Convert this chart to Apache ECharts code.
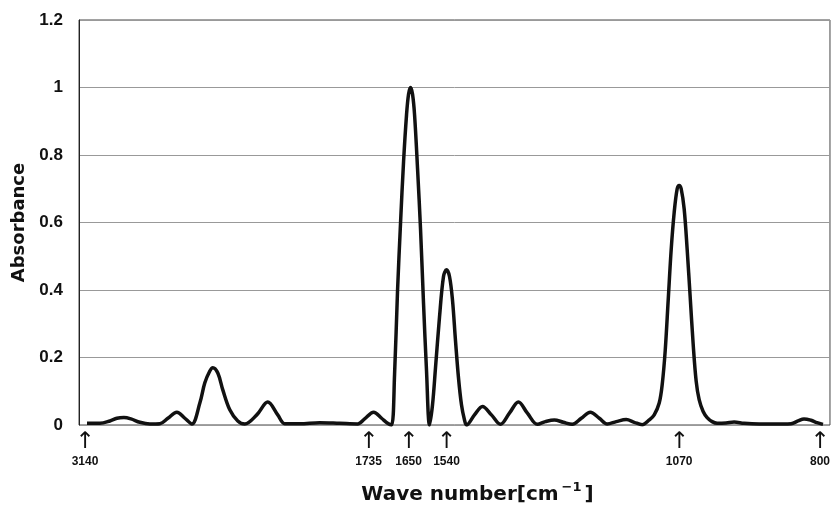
<!DOCTYPE html>
<html>
<head>
<meta charset="utf-8">
<script src="https://cdn.jsdelivr.net/npm/echarts@6/dist/echarts.min.js"></script>
<style>
  html, body { margin: 0; padding: 0; background: #fff; }
  #chart { width: 833px; height: 510px; }
</style>
</head>
<body>
<div id="chart"></div>
<script>
// Spectrum is drawn on a detector-channel axis (not linear in wave number)
const channel = [
  8, 21, 31, 38, 45, 52, 61, 71, 81, 89, 98, 106, 113,
  121, 126, 131, 134, 139, 144, 151, 159, 166, 178, 189, 199, 206,
  221, 241, 261, 279, 286, 295, 303, 309,
  313, 316, 319, 322, 325, 328, 330, 332, 334, 336, 339, 342, 345, 348, 351,
  354, 357, 361, 365, 368, 371, 374, 377, 380, 383, 386, 388,
  396, 404, 413, 422, 431, 440, 449, 459, 467, 476, 485, 494, 503, 512, 521, 529,
  538, 548, 556, 564,
  571, 576, 581, 584, 587, 590, 593, 596, 599, 601, 603, 606, 609, 612, 615, 618, 621, 625, 629, 634, 639,
  648, 656, 666, 681, 696, 713, 720, 726, 733, 739, 745
]
const absorbance = [
  0.005, 0.005, 0.012, 0.02, 0.022, 0.018, 0.008, 0.003, 0.004, 0.02, 0.038, 0.02, 0.003,
  0.065, 0.125, 0.16, 0.17, 0.154, 0.104, 0.045, 0.012, 0.003, 0.03, 0.068, 0.03, 0.004,
  0.004, 0.007, 0.005, 0.003, 0.018, 0.038, 0.02, 0.005,
  0.0, 0.15, 0.4, 0.6, 0.78, 0.92, 0.98, 1.0, 0.98, 0.92, 0.76, 0.58, 0.36, 0.16, 0.0,
  0.06, 0.17, 0.32, 0.44, 0.46, 0.44, 0.37, 0.25, 0.14, 0.06, 0.015, 0.0,
  0.03, 0.055, 0.03, 0.002, 0.035, 0.068, 0.035, 0.002, 0.01, 0.015, 0.008, 0.002, 0.02, 0.038, 0.02, 0.003,
  0.01, 0.016, 0.008, 0.001,
  0.015, 0.03, 0.065, 0.12, 0.22, 0.37, 0.52, 0.63, 0.7, 0.71, 0.7, 0.64, 0.52, 0.38, 0.24, 0.13, 0.075, 0.04, 0.022, 0.01, 0.005,
  0.006, 0.009, 0.005, 0.003, 0.003, 0.004, 0.012, 0.018, 0.014, 0.007, 0.002
]

// marked wave numbers and the channel where each sits
const tickChannel = [6, 290, 330, 368, 601, 742]
const tickWave = ['3140', '1735', '1650', '1540', '1070', '800']

const chart = echarts.init(document.getElementById('chart'), null, { renderer: 'canvas' })

chart.setOption({
  animation: false,
  backgroundColor: '#fff',
  grid: {
    left: 79,
    right: 2,
    top: 20,
    bottom: 85,
    show: true,
    borderColor: '#444',
    borderWidth: 1,
  },
  xAxis: {
    type: 'value',
    min: 0,
    max: 752,
    name: '{t|Wave number[cm}{s|−1}{t|]}',
    nameLocation: 'middle',
    nameGap: 56,
    nameTextStyle: {
      padding: [0, 0, 0, 46],
      rich: {
        t: { fontFamily: 'DejaVu Sans', fontWeight: 'bold', fontSize: 20, color: '#111', lineHeight: 26 },
        s: { fontFamily: 'DejaVu Sans', fontWeight: 'bold', fontSize: 13, color: '#111', verticalAlign: 'top', padding: [0, 3, 14, 3] },
      },
    },
    axisLine: { show: false },
    axisTick: { show: false, customValues: tickChannel },
    splitLine: { show: false },
    axisLabel: {
      customValues: tickChannel,
      margin: 6,
      formatter: (v) => '{a|↑}\n{n|' + tickWave[tickChannel.indexOf(v)] + '}',
      rich: {
        a: { fontFamily: 'DejaVu Sans', fontSize: 23, color: '#111', lineHeight: 22 },
        n: { fontFamily: 'Liberation Sans', fontWeight: 'bold', fontSize: 12, color: '#111', lineHeight: 17 },
      },
    },
  },
  yAxis: {
    type: 'value',
    min: 0,
    max: 1.2,
    interval: 0.2,
    name: 'Absorbance',
    nameLocation: 'middle',
    nameGap: 50,
    nameTextStyle: { fontFamily: 'DejaVu Sans', fontWeight: 'bold', fontSize: 18, color: '#111' },
    axisLine: { show: true, lineStyle: { color: '#222', width: 1 } },
    axisTick: { show: false },
    splitLine: { lineStyle: { color: '#999', width: 1 } },
    axisLabel: {
      margin: 16,
      fontFamily: 'Liberation Sans',
      fontWeight: 'bold',
      fontSize: 17,
      color: '#111',
      formatter: (v) => String(+v.toFixed(1)),
    },
  },
  series: [
    {
      type: 'line',
      data: channel.map((c, i) => [c, absorbance[i]]),
      smooth: 0.35,
      showSymbol: false,
      lineStyle: { color: '#111', width: 3.5 },
    },
  ],
})
</script>
</body>
</html>
